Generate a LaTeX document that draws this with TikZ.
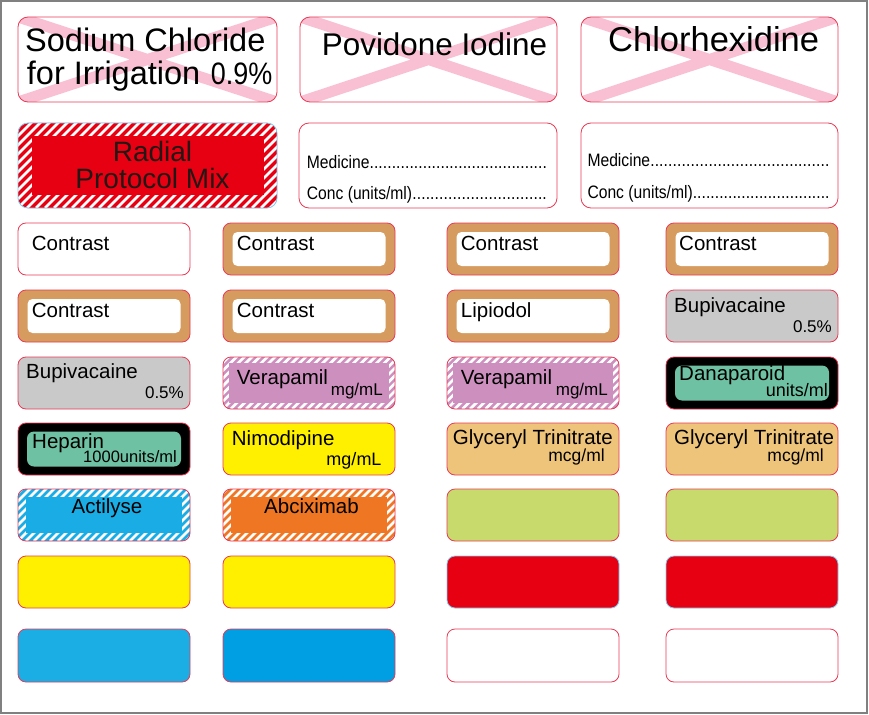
\documentclass[tikz,border=0pt]{standalone}
\usepackage{fontspec}
\setmainfont{Liberation Sans}
\newfontfamily\narrowfont[FakeStretch=0.87]{Liberation Sans}
\newcommand\dotline{\xleaders\hbox to 4.4pt{\hss.\hss}\hfill}

\definecolor{lblred}{HTML}{E83A55}
\definecolor{lblblue}{HTML}{7FCEF4}
\definecolor{xpink}{HTML}{F8C0D2}
\definecolor{framegray}{HTML}{808080}
\definecolor{tanc}{HTML}{D69B5E}
\definecolor{hepgreen}{HTML}{6EC1A3}
\definecolor{grayc}{HTML}{C9C9C9}
\definecolor{verac}{HTML}{CC8FBE}
\definecolor{yellowc}{HTML}{FFF000}
\definecolor{gtnc}{HTML}{EEC37A}
\definecolor{actblue}{HTML}{1AACE4}
\definecolor{abcorange}{HTML}{EF7622}
\definecolor{limec}{HTML}{C7DA6B}
\definecolor{radred}{HTML}{E60012}
\definecolor{skyone}{HTML}{1AAEE5}
\definecolor{skytwo}{HTML}{009FE3}
\definecolor{inkc}{HTML}{231815}

\begin{document}
\begin{tikzpicture}[x=1pt,y=-1pt,
    lbl/.style={draw=lblred, line width=0.8pt, rounded corners=8pt,
                minimum width=172pt, minimum height=52pt,
                inner sep=0pt, outer sep=0pt, anchor=north west},
    big/.style={lbl, rounded corners=10pt, minimum width=#1, minimum height=85pt},
    crossed/.style={path picture={
        \draw[xpink, line width=11pt]
          (path picture bounding box.north west) -- (path picture bounding box.south east)
          (path picture bounding box.south west) -- (path picture bounding box.north east);}},
    brownbox/.style={fill=tanc, path picture={
        \fill[white, rounded corners=5pt]
          ([shift={(9.5pt,9pt)}]path picture bounding box.south west) rectangle
          ([shift={(-9.5pt,-9pt)}]path picture bounding box.north east);}},
    blackbox/.style={fill=black, path picture={
        \fill[hepgreen, rounded corners=7pt]
          ([shift={(9pt,8.5pt)}]path picture bounding box.south west) rectangle
          ([shift={(-9pt,-8.5pt)}]path picture bounding box.north east);}},
    hatch/.style n args={3}{fill=#1, path picture={
        \foreach \k in {-12,...,32}
          \draw[white, line width=2.7pt]
            ([xshift=\k*#3]path picture bounding box.south west) -- ++(100pt,100pt);
        \fill[#1, sharp corners]
          ([shift={(#2,#2)}]path picture bounding box.south west) rectangle
          ([shift={(-#2,-#2)}]path picture bounding box.north east);}},
    txt/.style={inner sep=0pt, anchor=base west, font=\fontsize{20.5}{24}\selectfont},
    unit/.style={inner sep=0pt, anchor=base east, font=\fontsize{17}{20}\selectfont}]

  \useasboundingbox (0,0) rectangle (869,714);
  \draw[framegray, line width=2pt] (1,1) rectangle (867,713);

  % big labels
  \node[big=259pt, crossed] (nacl) at (18,17) {};
  \node[big=257pt, crossed] (pvi)  at (300,17) {};
  \node[big=257pt, crossed] (chx)  at (581,17) {};
  \node[big=259pt, hatch={radred}{13.5pt}{9pt}, draw=lblblue] (rad) at (18,123) {};
  \node[big=258pt] (medA) at (299,123) {};
  \node[big=257pt] (medB) at (581,123) {};

  \node[txt, font=\fontsize{32.5}{34}\selectfont] (naclA) at (25,52) {Sodium Chloride};
  \node[txt, font=\fontsize{32.5}{34}\selectfont] (naclB) at (26.7,85) {for Irrigation};
  \node[txt, font=\narrowfont\fontsize{31}{34}\selectfont] (naclC) at (210.7,85) {0.9\%};
  \node[txt, font=\fontsize{31.4}{34}\selectfont] (pviT) at (321.7,56) {Povidone Iodine};
  \node[txt, font=\fontsize{34.5}{36}\selectfont] (chxT) at (608,52) {Chlorhexidine};
  \node[anchor=base, inner sep=0pt, align=center, text=inkc,
        font=\fontsize{28}{26.5}\selectfont] (radT) at (152.5,188) {Radial\\Protocol Mix};
  \node[txt, font=\narrowfont\fontsize{18}{20}\selectfont] (medAa) at (306.7,168) {\makebox[240pt][l]{Medicine\dotline}};
  \node[txt, font=\narrowfont\fontsize{18}{20}\selectfont] (medAb) at (306.7,199) {\makebox[240pt][l]{Conc (units/ml)\dotline}};
  \node[txt, font=\narrowfont\fontsize{18}{20}\selectfont] (medBa) at (587.3,167) {\makebox[242pt][l]{Medicine\dotline}};
  \node[txt, font=\narrowfont\fontsize{18}{20}\selectfont] (medBb) at (587.3,198) {\makebox[242pt][l]{Conc (units/ml)\dotline}};

  % small labels
  \node[lbl] (a1) at (18,223) {};
  \node[lbl, brownbox] (a2) at (223,223) {};
  \node[lbl, brownbox] (a3) at (447,223) {};
  \node[lbl, brownbox] (a4) at (666,223) {};
  \node[lbl, brownbox] (b1) at (18,290) {};
  \node[lbl, brownbox] (b2) at (223,290) {};
  \node[lbl, brownbox] (b3) at (447,290) {};
  \node[lbl, fill=grayc] (b4) at (666,290) {};
  \node[lbl, fill=grayc] (c1) at (18,357) {};
  \node[lbl, hatch={verac}{6pt}{7.7pt}] (c2) at (223,357) {};
  \node[lbl, hatch={verac}{6pt}{7.7pt}] (c3) at (447,357) {};
  \node[lbl, blackbox] (c4) at (666,357) {};
  \node[lbl, blackbox] (d1) at (18,423) {};
  \node[lbl, fill=yellowc] (d2) at (223,423) {};
  \node[lbl, fill=gtnc] (d3) at (447,423) {};
  \node[lbl, fill=gtnc] (d4) at (666,423) {};
  \node[lbl, hatch={actblue}{8pt}{8pt}] (e1) at (18,489) {};
  \node[lbl, hatch={abcorange}{8pt}{8pt}] (e2) at (223,489) {};
  \node[lbl, fill=limec] (e3) at (447,489) {};
  \node[lbl, fill=limec] (e4) at (666,489) {};
  \node[lbl, fill=yellowc] (f1) at (18,556) {};
  \node[lbl, fill=yellowc] (f2) at (223,556) {};
  \node[lbl, fill=radred, draw=lblblue] (f3) at (447,556) {};
  \node[lbl, fill=radred, draw=lblblue] (f4) at (666,556) {};
  \node[lbl, fill=skyone, minimum height=53pt] (g1) at (18,629) {};
  \node[lbl, fill=skytwo, minimum height=53pt] (g2) at (223,629) {};
  \node[lbl, minimum height=53pt] (g3) at (447,629) {};
  \node[lbl, minimum height=53pt] (g4) at (666,629) {};

  \node[txt] (a1t) at (31.7,250) {Contrast};
  \node[txt] (a2t) at (236.7,250) {Contrast};
  \node[txt] (a3t) at (460.7,250) {Contrast};
  \node[txt] (a4t) at (679,250) {Contrast};
  \node[txt] (b1t) at (31.7,317) {Contrast};
  \node[txt] (b2t) at (236.7,317) {Contrast};
  \node[txt] (b3t) at (460.7,317) {Lipiodol};
  \node[txt] (b4t) at (674,312) {Bupivacaine};
  \node[unit] (b4u) at (832,332) {0.5\%};
  \node[txt] (c1t) at (26,378) {Bupivacaine};
  \node[unit] (c1u) at (184,398) {0.5\%};
  \node[txt] (c2t) at (236.7,384) {Verapamil};
  \node[unit] (c2u) at (383,395) {mg/mL};
  \node[txt] (c3t) at (460.7,384) {Verapamil};
  \node[unit] (c3u) at (608,395) {mg/mL};
  \node[txt] (c4t) at (679,380) {Danaparoid};
  \node[unit, font=\fontsize{18}{20}\selectfont] (c4u) at (828,396.7) {units/ml};
  \node[txt] (d1t) at (32,448) {Heparin};
  \node[unit, font=\fontsize{16.5}{19}\selectfont] (d1u) at (177,462) {1000units/ml};
  \node[txt] (d2t) at (231.7,445.7) {Nimodipine};
  \node[unit, font=\fontsize{18}{20}\selectfont] (d2u) at (381.7,465) {mg/mL};
  \node[txt] (d3t) at (452.7,444.3) {Glyceryl Trinitrate};
  \node[unit, font=\fontsize{17.5}{20}\selectfont] (d3u) at (605,461.7) {mcg/ml};
  \node[txt] (d4t) at (674,444.3) {Glyceryl Trinitrate};
  \node[unit, font=\fontsize{17.5}{20}\selectfont] (d4u) at (824,461.7) {mcg/ml};
  \node[txt, anchor=base] (e1t) at (107,513) {Actilyse};
  \node[txt, anchor=base] (e2t) at (311.5,513) {Abciximab};
\end{tikzpicture}
\end{document}
